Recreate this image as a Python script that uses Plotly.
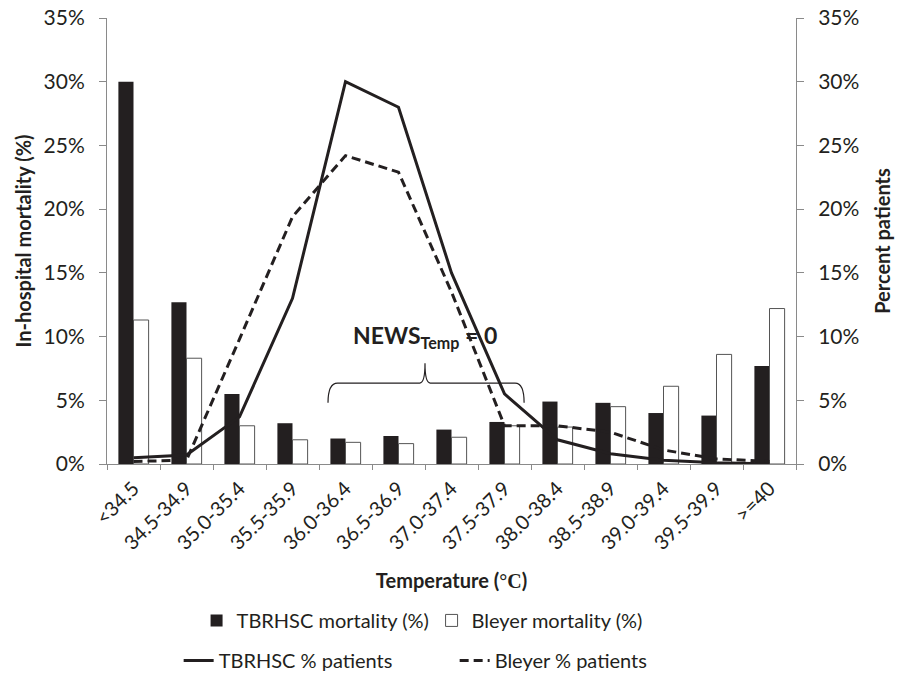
import plotly.graph_objects as go

# Temperature bands (°C)
categories = ["<34.5", "34.5-34.9", "35.0-35.4", "35.5-35.9", "36.0-36.4", "36.5-36.9",
              "37.0-37.4", "37.5-37.9", "38.0-38.4", "38.5-38.9", "39.0-39.4", "39.5-39.9", ">=40"]

# In-hospital mortality (%) by temperature band
tbrhsc_mortality = [30.0, 12.7, 5.5, 3.2, 2.0, 2.2, 2.7, 3.3, 4.9, 4.8, 4.0, 3.8, 7.7]
bleyer_mortality = [11.3, 8.3, 3.0, 1.9, 1.7, 1.6, 2.1, 3.0, 2.9, 4.5, 6.1, 8.6, 12.2]

# Share of patients (%) in each temperature band
tbrhsc_patients = [0.5, 0.7, 3.7, 13.0, 30.0, 28.0, 15.0, 5.5, 1.9, 0.8, 0.3, 0.1, 0.0]
bleyer_patients = [0.2, 0.3, 9.8, 19.4, 24.2, 22.9, 13.5, 3.0, 3.0, 2.5, 1.1, 0.4, 0.2]

# Percentage ticks shared by both value axes
pct_ticks = [0, 5, 10, 15, 20, 25, 30, 35]
pct_labels = [f"{v}%" for v in pct_ticks]

INK = "#231f20"
AXIS = "#8a8a8a"
FONT = "Lato"

fig = go.Figure()

fig.add_trace(go.Bar(
    x=categories, y=tbrhsc_mortality, name="TBRHSC mortality (%)",
    marker=dict(color=INK, line=dict(width=0)), legend="legend", yaxis="y",
))
fig.add_trace(go.Bar(
    x=categories, y=bleyer_mortality, name="Bleyer mortality (%)",
    marker=dict(color="white", line=dict(color="#555555", width=1)), legend="legend", yaxis="y",
))
fig.add_trace(go.Scatter(
    x=categories, y=tbrhsc_patients, name="TBRHSC % patients", mode="lines",
    line=dict(color=INK, width=3), legend="legend2", yaxis="y2",
))
fig.add_trace(go.Scatter(
    x=categories, y=bleyer_patients, name="Bleyer % patients", mode="lines",
    line=dict(color=INK, width=3, dash="9px,5px"), legend="legend2", yaxis="y2",
))

yaxis_common = dict(
    range=[0, 35], tickmode="array", tickvals=pct_ticks, ticktext=pct_labels,
    showgrid=False, zeroline=False, showline=True, linecolor=AXIS, linewidth=1,
    ticks="outside", ticklen=7, tickcolor=AXIS,
    tickfont=dict(family=FONT, size=21, color=INK),
    ticklabelstandoff=10,
)

fig.update_layout(
    width=897, height=678,
    margin=dict(l=107, r=101, t=18, b=214, autoexpand=False),
    paper_bgcolor="white", plot_bgcolor="white",
    barmode="group", bargap=0.43, bargroupgap=0,
    font=dict(family=FONT, color=INK),
    xaxis=dict(
        type="category", showgrid=False, showline=True, linecolor=AXIS, linewidth=1,
        ticks="outside", ticklen=5, tickcolor=AXIS, tickson="boundaries",
        tickangle=-45, tickfont=dict(family=FONT, size=20, color=INK),
        ticklabelstandoff=4,
        title=dict(text="<b>Temperature (<span style='font-family:Liberation Serif'>°C</span>)</b>",
                   font=dict(family=FONT, size=20, color=INK), standoff=20),
    ),
    yaxis=dict(
        **yaxis_common,
        title=dict(text="<b>In-hospital mortality (%)</b>",
                   font=dict(family=FONT, size=20, color=INK), standoff=6),
    ),
    yaxis2=dict(
        **yaxis_common, overlaying="y", side="right",
        title=dict(text="<b>Percent patients</b>",
                   font=dict(family=FONT, size=20, color=INK), standoff=17),
    ),
    legend=dict(
        orientation="h", x=0.13, y=-0.307, xanchor="left", yanchor="top",
        font=dict(family=FONT, size=20, color=INK), entrywidth=190,
        traceorder="normal", bgcolor="rgba(0,0,0,0)",
    ),
    legend2=dict(
        orientation="h", x=0.104, y=-0.397, xanchor="left", yanchor="top",
        font=dict(family=FONT, size=20, color=INK), entrywidth=231,
        traceorder="normal", bgcolor="rgba(0,0,0,0)",
    ),
    showlegend=True,
)

# Brace marking the NEWS temperature score of zero
fig.add_shape(
    type="path", xref="x", yref="y",
    path="M 3.67 4.8 Q 3.67 6.35 3.85 6.35 L 5.4 6.35 Q 5.5 6.35 5.5 7.9 "
         "Q 5.5 6.35 5.6 6.35 L 7.2 6.35 Q 7.37 6.35 7.37 4.8",
    line=dict(color=INK, width=1.2),
)
fig.add_annotation(
    x=5.5, y=8.6, xref="x", yref="y", yanchor="bottom",
    text="<b>NEWS<sub>Temp</sub> = 0</b>", showarrow=False,
    font=dict(family=FONT, size=23, color=INK),
)

fig.write_html("out.html")
